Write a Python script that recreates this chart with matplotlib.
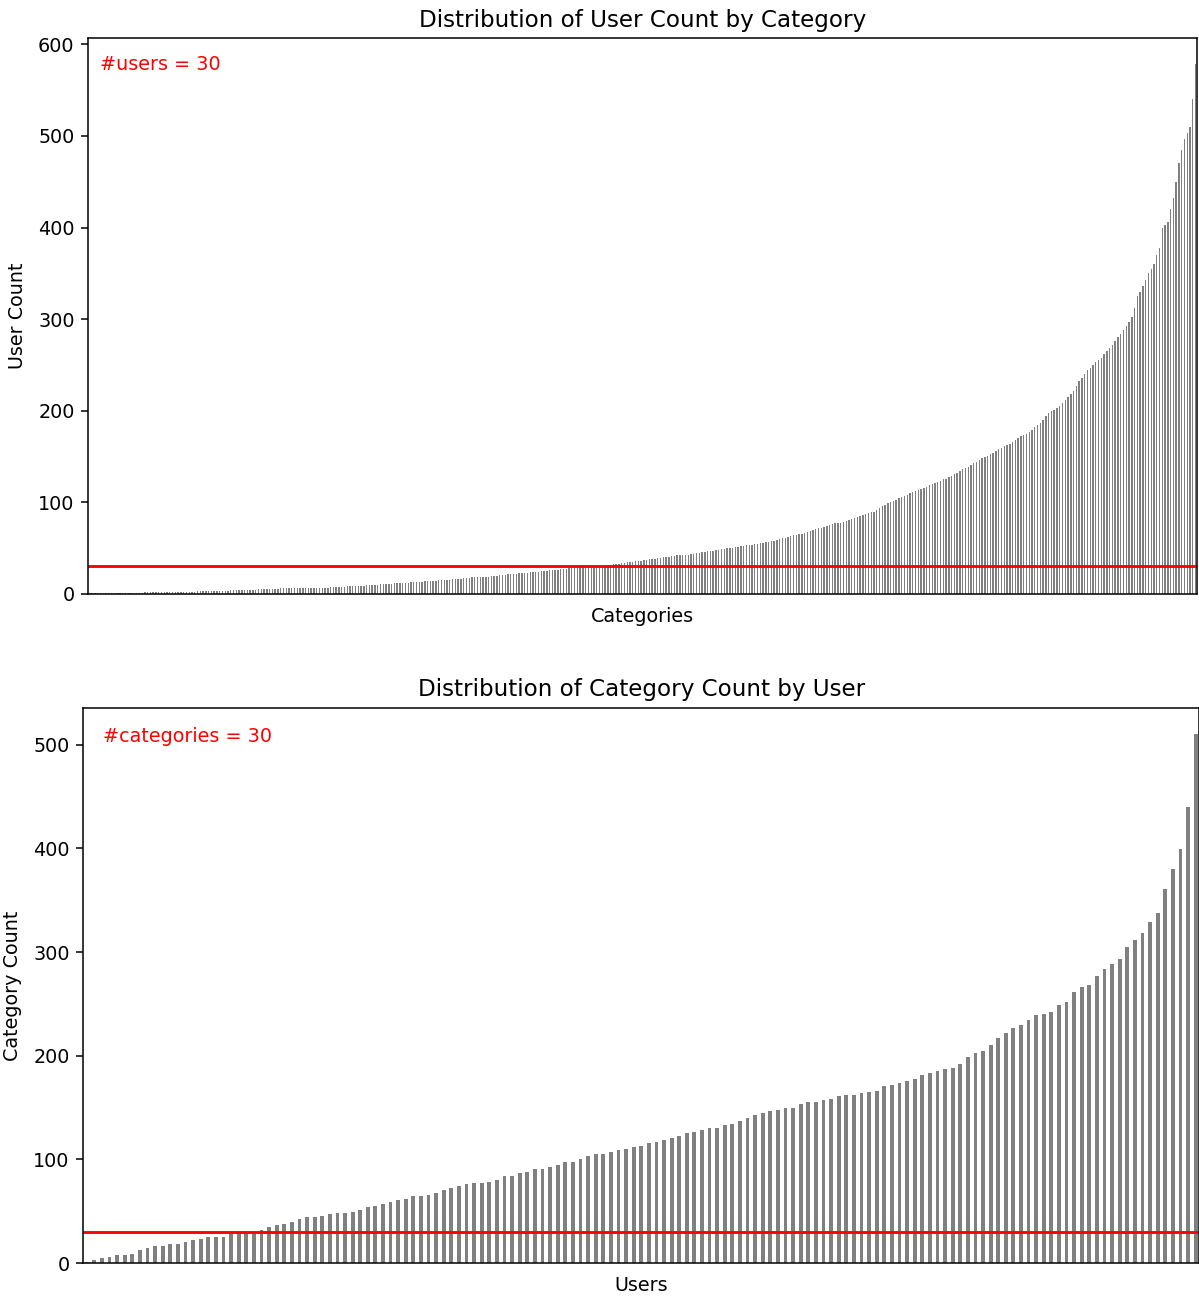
import matplotlib
matplotlib.use("Agg")
import matplotlib.pyplot as plt

# users per category, sorted ascending
user_counts = [
    1, 1, 1, 1, 1, 1, 1, 1, 1, 1, 1, 1, 1, 1, 1, 1, 1, 1, 1, 1,
    2, 2, 2, 2, 2, 2, 2, 2, 2, 2, 2, 2, 2, 2, 2, 2, 2, 2, 2,
    3, 3, 3, 3, 3, 3, 3, 3, 3, 3, 3, 3,
    4, 4, 4, 4, 4, 4, 4, 4, 4, 4,
    5, 5, 5, 5, 5, 5, 5, 5,
    6, 6, 6, 6, 6, 6, 6, 6, 6, 6,
    7, 7, 7, 7, 7, 7, 7, 7,
    8, 8, 8, 8, 8, 8,
    9, 9, 9, 9, 9, 9, 9,
    10, 10, 10, 10, 10,
    11, 11, 11, 11, 11,
    12, 12, 12, 12, 12, 12,
    13, 13, 13, 13, 13,
    14, 14, 14, 14, 14,
    15, 15, 15, 15, 15,
    16, 16, 16, 16,
    17, 17, 17,
    18, 18, 18, 18,
    19, 19, 19, 20, 20, 20, 21, 21, 21, 22, 22, 22, 22, 23, 23, 23, 23, 24,
    24, 24, 24, 25, 25, 25, 26, 26, 26, 26, 27, 27, 27, 28, 28, 28, 28, 29,
    29, 29, 30, 30, 30, 31, 31, 31, 32, 32, 32, 33, 33, 33, 34, 34,
    35, 35, 35, 36, 36, 36, 37, 37, 38, 38, 38, 39, 39, 40, 40, 40, 41, 41, 42, 42,
    43, 43, 43, 44, 44, 45, 45, 46, 46, 47, 47, 47, 48, 48, 49, 49, 50, 50, 50, 51,
    51, 52, 52, 53,
    54, 54, 55, 55, 56, 56, 57, 57, 58, 58, 59, 60,
    61, 61, 62, 63, 64, 64, 65, 66, 67, 68, 69, 70,
    71, 72, 72, 73, 74, 75, 76, 77, 77, 78, 79, 80,
    81, 82, 83, 84, 85, 86, 87, 88, 89, 90, 92,
    94, 96, 97, 99, 100, 102, 103, 105,
    106, 107, 108, 110, 111,
    112, 114, 115, 116, 117, 119,
    120, 121, 122, 123, 125, 126,
    128, 129, 131, 132, 134, 136,
    137, 139, 141, 143, 144, 146,
    148, 149, 151, 153, 154, 156,
    158, 159, 161, 163, 164, 166,
    168, 170, 172, 173, 175, 177, 179,
    182, 184, 187, 190, 194, 198,
    200, 201, 203, 205,
    209, 212, 215, 218, 222,
    227, 232, 236, 240, 244,
    247, 250, 253, 255, 258,
    262, 265, 268, 272,
    276, 280, 284,
    288, 292, 297, 302,
    312, 325,
    330, 336, 343, 350,
    355, 360,
    370, 378,
    400, 403, 406,
    420, 432,
    450, 470,
    485, 497,
    503, 510,
    540, 578,
]

# categories per user, sorted ascending
category_counts = [
    1, 3, 5, 6, 8, 8, 9, 13, 14, 16, 16, 18, 18, 20, 22, 23, 25, 25, 25, 29,
    29, 29, 29, 32, 35, 37, 38, 40, 42, 44, 44, 45, 47, 48, 48, 49, 51, 54, 55, 57,
    59, 61, 62, 65, 65, 66, 68, 70, 72, 74, 76, 77,
    77, 78, 80, 84, 84, 87, 88, 91, 91, 93, 95, 97, 97, 100, 103, 105, 105, 107,
    109, 110, 112, 113, 116, 117, 119, 121, 123, 125, 126, 128, 130, 130, 133, 134,
    137, 140, 143, 145, 147, 148, 150, 150, 153, 155, 155, 157, 158, 161, 162, 162,
    164, 165, 166,
    171, 172, 174, 176, 178, 181, 183, 185, 187, 188, 192, 199, 203, 205, 210, 217,
    222, 227, 230, 234, 239, 240, 242, 249, 252, 261, 266, 268, 277, 284, 288, 293,
    305, 312, 318, 329, 338, 361, 380, 399, 440, 510,
]

threshold = 30

DPI = 138
fig = plt.figure(figsize=(1199 / DPI, 1302 / DPI), dpi=DPI)

ax1 = fig.add_axes([0.0734, 0.5438, 0.9249, 0.4270])
ax1.bar(range(len(user_counts)), user_counts, width=0.5, color="gray")
ax1.set_xlim(-0.5, len(user_counts) - 0.5)
ax1.set_xticks([])
ax1.axhline(threshold, color="red", linewidth=1.5)
ax1.set_title("Distribution of User Count by Category", fontsize=12)
ax1.set_xlabel("Categories", labelpad=7)
ax1.set_ylabel("User Count", labelpad=6)
ax1.text(0.011, 0.953, f"#users = {threshold}", color="red", va="center",
         transform=ax1.transAxes)

ax2 = fig.add_axes([0.0692, 0.02995, 0.9312, 0.4263])
ax2.bar(range(len(category_counts)), category_counts, width=0.5, color="gray")
ax2.set_xlim(-0.5, len(category_counts) - 0.5)
ax2.set_xticks([])
ax2.axhline(threshold, color="red", linewidth=1.5)
ax2.set_title("Distribution of Category Count by User", fontsize=12)
ax2.set_xlabel("Users", labelpad=7)
ax2.set_ylabel("Category Count", labelpad=6)
ax2.text(0.0177, 0.948, f"#categories = {threshold}", color="red", va="center",
         transform=ax2.transAxes)

fig.savefig("out.png", dpi=DPI)
